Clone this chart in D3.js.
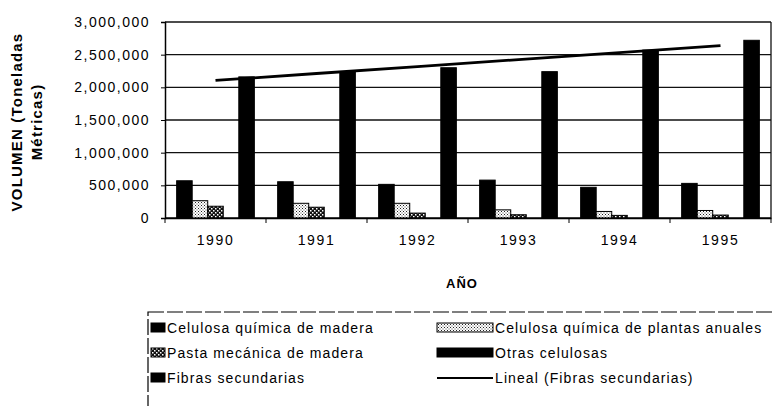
<!DOCTYPE html>
<html>
<head>
<meta charset="utf-8">
<script src="https://cdn.jsdelivr.net/npm/d3@7"></script>
<style>
  body { margin: 0; background: #fff; }
  svg { display: block; font-family: 'Liberation Sans', Arial, sans-serif; }
</style>
</head>
<body>
<svg id="graphic" width="773" height="406"></svg>
<script>
const years = ['1990', '1991', '1992', '1993', '1994', '1995'];
const seriesNames = [
  'Celulosa química de madera',
  'Celulosa química de plantas anuales',
  'Pasta mecánica de madera',
  'Otras celulosas',
  'Fibras secundarias',
];
const celulosaMadera = [570000, 555000, 515000, 580000, 470000, 530000];
const celulosaAnuales = [265000, 225000, 225000, 125000, 100000, 115000];
const pastaMecanica = [180000, 165000, 75000, 50000, 40000, 45000];
const otrasCelulosas = [0, 0, 0, 0, 0, 0];
const fibrasSecundarias = [2160000, 2240000, 2300000, 2240000, 2570000, 2720000];
const yTicks = [0, 500000, 1000000, 1500000, 2000000, 2500000, 3000000];
const trendLabel = 'Lineal (Fibras secundarias)';

const seriesValues = [celulosaMadera, celulosaAnuales, pastaMecanica, otrasCelulosas, fibrasSecundarias];
const fills = ['#000', 'url(#stipple)', 'url(#checker)', '#000', '#000'];

const margins = {top: 22, right: 2, bottom: 188, left: 165};
const width = 773 - margins.left - margins.right;
const height = 406 - margins.top - margins.bottom;

const svg = d3.select('#graphic');

// hatch patterns for the two light series
const defs = svg.append('defs');
const stipple = defs.append('pattern')
    .attr('id', 'stipple')
    .attr('width', 3)
    .attr('height', 3)
    .attr('patternUnits', 'userSpaceOnUse');
stipple.append('rect').attr('width', 3).attr('height', 3).attr('fill', '#fff');
stipple.append('rect').attr('width', 1).attr('height', 1).attr('fill', '#222');
stipple.append('rect').attr('x', 1.5).attr('y', 1.5).attr('width', 1).attr('height', 1).attr('fill', '#444');

const checker = defs.append('pattern')
    .attr('id', 'checker')
    .attr('width', 4)
    .attr('height', 4)
    .attr('patternUnits', 'userSpaceOnUse');
checker.append('rect').attr('width', 4).attr('height', 4).attr('fill', '#111');
checker.append('rect').attr('width', 1.5).attr('height', 1.5).attr('fill', '#fff');
checker.append('rect').attr('x', 2).attr('y', 2).attr('width', 1.5).attr('height', 1.5).attr('fill', '#fff');

const xScale = d3
    .scaleBand()
    .domain(years)
    .range([0, width]);

const xInner = d3
    .scaleBand()
    .domain(seriesNames)
    .range([0, xScale.bandwidth()])
    .paddingOuter(0.75);

const yScale = d3
    .scaleLinear()
    .domain([0, 3000000])
    .range([height, 0]);

const plot = svg.append('g')
    .attr('transform', `translate(${margins.left}, ${margins.top})`);

// gridlines
plot.append('g')
    .selectAll('line')
    .data(yTicks)
    .enter()
    .append('line')
    .attr('x1', 0)
    .attr('x2', width)
    .attr('y1', (d) => yScale(d))
    .attr('y2', (d) => yScale(d))
    .attr('stroke', '#111')
    .attr('stroke-width', 1.3);

plot.append('line')
    .attr('x1', width)
    .attr('x2', width)
    .attr('y1', 0)
    .attr('y2', height)
    .attr('stroke', '#111')
    .attr('stroke-width', 1.3);

// bars
const groups = plot.selectAll('.year')
    .data(years)
    .enter()
    .append('g')
    .classed('year', true)
    .attr('transform', (d) => `translate(${xScale(d)}, 0)`);

groups.selectAll('rect')
    .data((d, i) => seriesNames.map((s, j) => ({name: s, value: seriesValues[j][i], fill: fills[j]})))
    .enter()
    .filter((d) => d.value > 0)
    .append('rect')
    .attr('x', (d) => xInner(d.name))
    .attr('y', (d) => yScale(d.value))
    .attr('width', xInner.bandwidth())
    .attr('height', (d) => height - yScale(d.value))
    .attr('fill', (d) => d.fill)
    .attr('stroke', '#000')
    .attr('stroke-width', 1);

// linear trend of fibras secundarias
const xs = years.map((d, i) => i + 1);
const meanX = d3.mean(xs);
const meanY = d3.mean(fibrasSecundarias);
const slope = d3.sum(xs, (x, i) => (x - meanX) * (fibrasSecundarias[i] - meanY)) / d3.sum(xs, (x) => (x - meanX) ** 2);
const trend = xs.map((x, i) => ({year: years[i], value: meanY + slope * (x - meanX)}));

plot.append('path')
    .datum(trend)
    .attr('fill', 'none')
    .attr('stroke', '#000')
    .attr('stroke-width', 2.8)
    .attr('d', d3.line()
        .x((d) => xScale(d.year) + xScale.bandwidth() / 2)
        .y((d) => yScale(d.value)));

// axes
const yAxis = d3
    .axisLeft(yScale)
    .tickValues(yTicks)
    .tickSize(4)
    .tickPadding(11)
    .tickFormat(d3.format(','));

const yG = plot.append('g').call(yAxis);
yG.select('.domain').attr('stroke', '#000').attr('stroke-width', 1.5);
yG.selectAll('.tick line').attr('stroke', '#000');
yG.selectAll('text')
    .attr('fill', '#000')
    .attr('font-size', 14)
    .attr('letter-spacing', 1.5);

const xAxis = d3
    .axisBottom(xScale)
    .tickSize(0)
    .tickPadding(17);

const xG = plot.append('g')
    .attr('transform', `translate(0, ${height})`)
    .call(xAxis);
xG.select('.domain').attr('stroke', '#000').attr('stroke-width', 1.5);
xG.selectAll('text')
    .attr('fill', '#000')
    .attr('font-size', 14)
    .attr('letter-spacing', 1.6);

xG.selectAll('.sep')
    .data(years.concat(['end']))
    .enter()
    .append('line')
    .attr('x1', (d) => d === 'end' ? width : xScale(d))
    .attr('x2', (d) => d === 'end' ? width : xScale(d))
    .attr('y1', 0)
    .attr('y2', 5)
    .attr('stroke', '#000');

// axis titles
svg.append('text')
    .attr('x', margins.left + width / 2 - 6)
    .attr('y', 288)
    .attr('text-anchor', 'middle')
    .attr('font-size', 13)
    .attr('font-weight', 'bold')
    .attr('letter-spacing', 1)
    .text('AÑO');

const yTitle = svg.append('text')
    .attr('transform', 'translate(0, 122) rotate(-90)')
    .attr('text-anchor', 'middle')
    .attr('font-size', 15)
    .attr('font-weight', 'bold')
    .attr('letter-spacing', 1.2);
yTitle.append('tspan').attr('x', 0).attr('y', 22).text('VOLUMEN (Toneladas');
yTitle.append('tspan').attr('x', 0).attr('y', 42).text('Métricas)');

// legend
const legend = svg.append('g');
legend.append('rect')
    .attr('x', 148)
    .attr('y', 312)
    .attr('width', 700)
    .attr('height', 100)
    .attr('fill', 'none')
    .attr('stroke', '#000')
    .attr('stroke-width', 1.2)
    .attr('stroke-dasharray', '16,3');

const legendItems = [
  {label: seriesNames[0], fill: fills[0], col: 0, row: 0},
  {label: seriesNames[1], fill: fills[1], col: 1, row: 0},
  {label: seriesNames[2], fill: fills[2], col: 0, row: 1},
  {label: seriesNames[3], fill: fills[3], col: 1, row: 1},
  {label: seriesNames[4], fill: fills[4], col: 0, row: 2},
  {label: trendLabel, fill: null, col: 1, row: 2},
];
const colX = [[151, 165], [437, 493]];
const rowY = [328, 353, 378];

const items = legend.selectAll('.item')
    .data(legendItems)
    .enter()
    .append('g')
    .classed('item', true);

items.filter((d) => d.fill)
    .append('rect')
    .attr('x', (d) => colX[d.col][0])
    .attr('y', (d) => rowY[d.row] - 5)
    .attr('width', (d) => colX[d.col][1] - colX[d.col][0])
    .attr('height', 9)
    .attr('fill', (d) => d.fill)
    .attr('stroke', '#000');

items.filter((d) => !d.fill)
    .append('line')
    .attr('x1', (d) => colX[d.col][0])
    .attr('x2', (d) => colX[d.col][1])
    .attr('y1', (d) => rowY[d.row])
    .attr('y2', (d) => rowY[d.row])
    .attr('stroke', '#000')
    .attr('stroke-width', 2.2);

items.append('text')
    .attr('x', (d) => colX[d.col][1] + 2)
    .attr('y', (d) => rowY[d.row])
    .attr('dy', '0.35em')
    .attr('font-size', 14)
    .attr('letter-spacing', 1.1)
    .text((d) => d.label);
</script>
</body>
</html>
